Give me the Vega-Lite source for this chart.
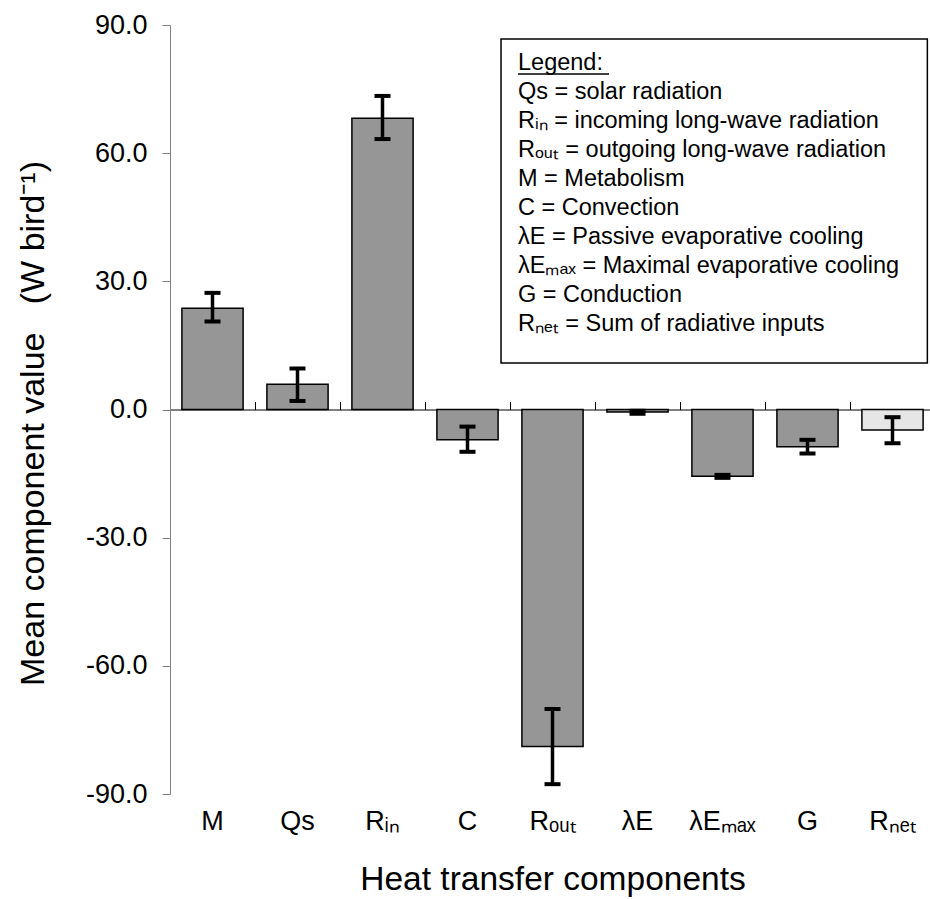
{
  "$schema": "https://vega.github.io/schema/vega-lite/v6.json",
  "width": 765,
  "height": 769,
  "autosize": "none",
  "padding": {"left": 170, "top": 25, "right": -5, "bottom": 105},
  "background": "white",
  "config": {
    "font": "Liberation Sans",
    "view": {"stroke": null},
    "axis": {"grid": false, "labelColor": "black", "titleColor": "black", "titleFontWeight": "normal"}
  },
  "datasets": {
    "components": [
      {"component": "M", "value": 23.7, "lower": 20.6, "upper": 27.3, "kind": "flux"},
      {"component": "Qs", "value": 5.9, "lower": 2.0, "upper": 9.6, "kind": "flux"},
      {"component": "Rᵢₙ", "value": 68.2, "lower": 63.3, "upper": 73.4, "kind": "flux"},
      {"component": "C", "value": -7.1, "lower": -9.9, "upper": -4.0, "kind": "flux"},
      {"component": "Rₒᵤₜ", "value": -78.9, "lower": -87.7, "upper": -70.1, "kind": "flux"},
      {"component": "λE", "value": -0.6, "lower": -1.0, "upper": -0.3, "kind": "flux"},
      {"component": "λEₘₐₓ", "value": -15.6, "lower": -16.0, "upper": -15.3, "kind": "flux"},
      {"component": "G", "value": -8.7, "lower": -10.3, "upper": -7.1, "kind": "flux"},
      {"component": "Rₙₑₜ", "value": -4.8, "lower": -7.9, "upper": -1.8, "kind": "sum"}
    ],
    "key": [
      {"line": 0, "text": "Legend:"},
      {"line": 1, "text": "Qs = solar radiation"},
      {"line": 2, "text": "Rᵢₙ = incoming long-wave radiation"},
      {"line": 3, "text": "Rₒᵤₜ = outgoing long-wave radiation"},
      {"line": 4, "text": "M = Metabolism"},
      {"line": 5, "text": "C = Convection"},
      {"line": 6, "text": "λE = Passive evaporative cooling"},
      {"line": 7, "text": "λEₘₐₓ = Maximal evaporative cooling"},
      {"line": 8, "text": "G = Conduction"},
      {"line": 9, "text": "Rₙₑₜ = Sum of radiative inputs"}
    ]
  },
  "layer": [
    {
      "data": {"name": "components"},
      "layer": [
        {
          "mark": {"type": "bar", "stroke": "black", "strokeWidth": 1.5, "width": {"band": 0.72}},
          "encoding": {
            "x": {
              "field": "component", "type": "nominal", "sort": null,
              "scale": {"paddingInner": 0, "paddingOuter": 0},
              "axis": {
                "title": "Heat transfer components",
                "ticks": false, "domain": false,
                "labelAngle": 0, "labelFontSize": 27, "labelPadding": 14,
                "titleFontSize": 33.5, "titlePadding": 29
              }
            },
            "y": {
              "field": "value", "type": "quantitative",
              "scale": {"domain": [-90, 90], "nice": false, "zero": false},
              "axis": {
                "title": "Mean component value\u00a0\u00a0\u00a0(W bird⁻¹)",
                "values": [-90, -60, -30, 0, 30, 60, 90],
                "format": ".1f",
                "labelExpr": "replace(datum.label, '−', '-')",
                "tickSize": 8, "tickColor": "#808080", "domainColor": "#808080",
                "labelFontSize": 27, "labelPadding": 15,
                "titleFontSize": 34, "titlePadding": 35, "titleY": 398
              }
            },
            "fill": {
              "field": "kind", "type": "nominal",
              "scale": {"domain": ["flux", "sum"], "range": ["#969696", "#e6e6e6"]},
              "legend": null
            }
          }
        },
        {
          "mark": {"type": "rule", "color": "black", "strokeWidth": 3.5},
          "encoding": {
            "x": {
              "field": "component", "type": "nominal", "sort": null,
              "axis": {
                "title": null, "labels": false, "bandPosition": 0,
                "tickSize": 8, "tickColor": "black", "domainColor": "black",
                "offset": -384.5
              }
            },
            "y": {
              "field": "lower", "type": "quantitative",
              "axis": {
                "title": "Mean component value\u00a0\u00a0\u00a0(W bird⁻¹)",
                "values": [-90, -60, -30, 0, 30, 60, 90],
                "format": ".1f",
                "labelExpr": "replace(datum.label, '−', '-')",
                "tickSize": 8, "tickColor": "#808080", "domainColor": "#808080",
                "labelFontSize": 27, "labelPadding": 15,
                "titleFontSize": 34, "titlePadding": 35, "titleY": 398
              }
            },
            "y2": {"field": "upper"}
          }
        },
        {
          "mark": {"type": "tick", "color": "black", "thickness": 4, "size": 16, "opacity": 1},
          "encoding": {
            "x": {"field": "component", "type": "nominal", "sort": null, "axis": null},
            "y": {
              "field": "lower", "type": "quantitative",
              "axis": {
                "title": "Mean component value\u00a0\u00a0\u00a0(W bird⁻¹)",
                "values": [-90, -60, -30, 0, 30, 60, 90],
                "format": ".1f",
                "labelExpr": "replace(datum.label, '−', '-')",
                "tickSize": 8, "tickColor": "#808080", "domainColor": "#808080",
                "labelFontSize": 27, "labelPadding": 15,
                "titleFontSize": 34, "titlePadding": 35, "titleY": 398
              }
            }
          }
        },
        {
          "mark": {"type": "tick", "color": "black", "thickness": 4, "size": 16, "opacity": 1},
          "encoding": {
            "x": {"field": "component", "type": "nominal", "sort": null, "axis": null},
            "y": {
              "field": "upper", "type": "quantitative",
              "axis": {
                "title": "Mean component value\u00a0\u00a0\u00a0(W bird⁻¹)",
                "values": [-90, -60, -30, 0, 30, 60, 90],
                "format": ".1f",
                "labelExpr": "replace(datum.label, '−', '-')",
                "tickSize": 8, "tickColor": "#808080", "domainColor": "#808080",
                "labelFontSize": 27, "labelPadding": 15,
                "titleFontSize": 34, "titlePadding": 35, "titleY": 398
              }
            }
          }
        }
      ],
      "resolve": {"axis": {"x": "independent"}}
    },
    {
      "layer": [
        {
          "data": {"values": [{}]},
          "mark": {"type": "rect", "fill": "white", "stroke": "black", "strokeWidth": 1.5},
          "encoding": {
            "x": {"datum": 0.4327, "type": "quantitative", "scale": {"domain": [0, 1], "nice": false, "zero": false}, "axis": null},
            "x2": {"datum": 0.99},
            "y": {"datum": -0.83, "type": "quantitative", "scale": {"domain": [-1.31, 25.21], "nice": false, "zero": false, "reverse": true}, "axis": null},
            "y2": {"datum": 10.35}
          }
        },
        {
          "data": {"values": [{}]},
          "mark": {"type": "rule", "color": "black", "strokeWidth": 1.5},
          "encoding": {
            "x": {"datum": 0.4549, "type": "quantitative"},
            "x2": {"datum": 0.5739},
            "y": {"datum": 0.38, "type": "quantitative"}
          }
        },
        {
          "data": {"name": "key"},
          "mark": {"type": "text", "align": "left", "baseline": "middle", "fontSize": 23.5, "color": "black"},
          "encoding": {
            "x": {"datum": 0.4549, "type": "quantitative"},
            "y": {"field": "line", "type": "quantitative"},
            "text": {"field": "text"}
          }
        }
      ]
    }
  ],
  "resolve": {"scale": {"x": "independent", "y": "independent"}, "axis": {"x": "independent", "y": "independent"}}
}
